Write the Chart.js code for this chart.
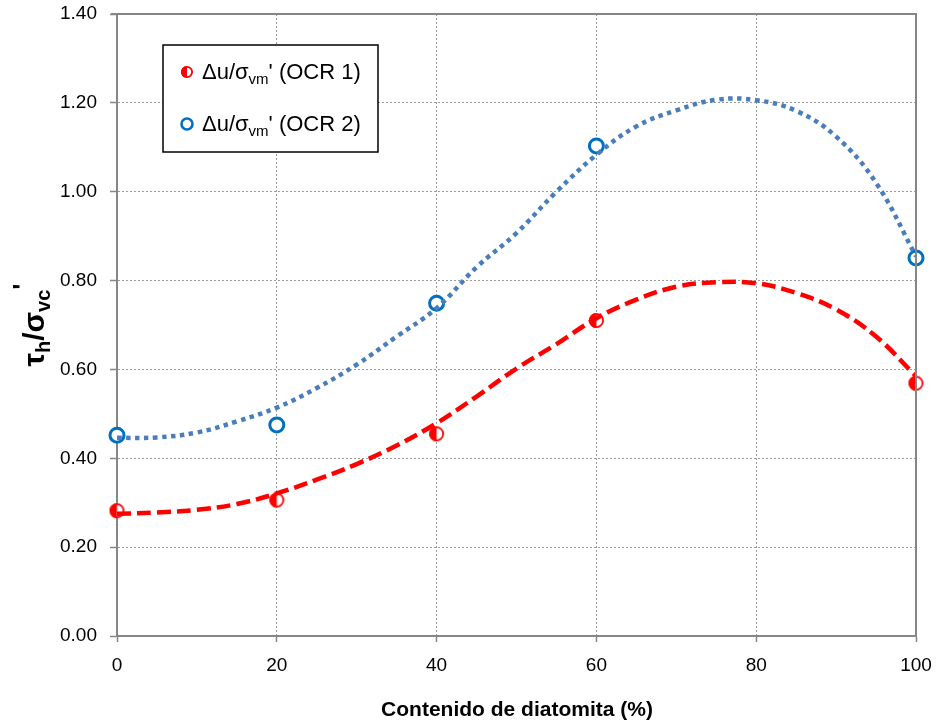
<!DOCTYPE html>
<html>
<head>
<meta charset="utf-8">
<script src="https://cdn.jsdelivr.net/npm/chart.js@4.4.1/dist/chart.umd.min.js"></script>
<style>
  html, body { margin: 0; padding: 0; background: #fff; }
  #wrap { width: 937px; height: 726px; position: relative; }
</style>
</head>
<body>
<div id="wrap"><canvas id="c" width="937" height="726"></canvas></div>
<script>
// ---- data ----
const xPoints = [0, 20, 40, 60, 100];
const ocr1Values = [0.282, 0.306, 0.455, 0.710, 0.569];
const ocr2Values = [0.452, 0.475, 0.749, 1.103, 0.851];

// trend curves as drawn in the reference
const trendX = [0, 5, 10, 15, 20, 25, 30, 35, 40, 45, 50, 55, 60, 65, 70, 75, 80, 85, 90, 95, 100];
const trend1Values = [0.275, 0.278, 0.284, 0.297, 0.321, 0.352, 0.387, 0.429, 0.479, 0.539, 0.602, 0.657, 0.715, 0.757, 0.786, 0.796, 0.794, 0.772, 0.735, 0.674, 0.585];
const trend2Values = [0.446, 0.447, 0.458, 0.483, 0.514, 0.558, 0.611, 0.674, 0.738, 0.830, 0.907, 1.000, 1.083, 1.147, 1.183, 1.207, 1.206, 1.182, 1.124, 1.020, 0.855];

const xTicks = [0, 20, 40, 60, 80, 100];
const yTickLabels = ['0.00', '0.20', '0.40', '0.60', '0.80', '1.00', '1.20', '1.40'];

const legendLabels = [
  { main: 'Δu/σ', sub: 'vm', rest: "' (OCR 1)" },
  { main: 'Δu/σ', sub: 'vm', rest: "' (OCR 2)" }
];

const RED = '#FF0000';
const BLUE_MK = '#0070C0';
const BLUE_LN = '#4A7EBB';
const AXIS = '#868686';
const GRID = '#9a9a9a';
const FONT = '"Liberation Sans", Arial, sans-serif';

function halfMarker(r) {
  const s = Math.ceil(r * 2 + 4);
  const cv = document.createElement('canvas');
  cv.width = s; cv.height = s;
  const g = cv.getContext('2d');
  const c = s / 2;
  g.beginPath(); g.arc(c, c, r, 0, Math.PI * 2); g.fillStyle = '#fff'; g.fill();
  g.beginPath(); g.moveTo(c, c - r); g.arc(c, c, r, -Math.PI / 2, Math.PI / 2, true); g.closePath();
  g.fillStyle = RED; g.fill();
  g.beginPath(); g.arc(c, c, r - 0.9, 0, Math.PI * 2); g.lineWidth = 1.8; g.strokeStyle = RED; g.stroke();
  return cv;
}
const redMarker = halfMarker(7.5);
const redMarkerSmall = halfMarker(6);

function toXY(xs, ys) { return xs.map((x, i) => ({ x: x, y: ys[i] })); }

const decorPlugin = {
  id: 'decor',
  afterDraw(chart) {
    const ctx = chart.ctx;
    const a = chart.chartArea;
    ctx.save();
    // top & right solid borders
    ctx.strokeStyle = AXIS; ctx.lineWidth = 2;
    ctx.beginPath();
    ctx.moveTo(a.left - 6, a.top); ctx.lineTo(a.right, a.top); ctx.lineTo(a.right, a.bottom);
    ctx.stroke();

    // legend box
    const bx = 163, by = 45, bw = 215, bh = 107;
    ctx.fillStyle = '#fff'; ctx.fillRect(bx, by, bw, bh);
    ctx.strokeStyle = '#000'; ctx.lineWidth = 1.5; ctx.strokeRect(bx, by, bw, bh);
    const rows = [79, 131];
    legendLabels.forEach((lab, i) => {
      const y = rows[i];
      if (i === 0) {
        ctx.drawImage(redMarkerSmall, 187 - redMarkerSmall.width / 2, y - 7 - redMarkerSmall.height / 2);
      } else {
        ctx.beginPath(); ctx.arc(187, y - 7, 5.5, 0, Math.PI * 2);
        ctx.fillStyle = '#fff'; ctx.fill();
        ctx.lineWidth = 2.6; ctx.strokeStyle = BLUE_MK; ctx.stroke();
      }
      ctx.fillStyle = '#000';
      ctx.textBaseline = 'alphabetic'; ctx.textAlign = 'left';
      let x = 202;
      ctx.font = '22px ' + FONT;
      ctx.fillText(lab.main, x, y); x += ctx.measureText(lab.main).width;
      ctx.font = '15px ' + FONT;
      ctx.fillText(lab.sub, x, y + 5); x += ctx.measureText(lab.sub).width;
      ctx.font = '22px ' + FONT;
      ctx.fillText(lab.rest, x, y);
    });

    // x-axis title
    ctx.font = 'bold 21px ' + FONT;
    ctx.textAlign = 'center'; ctx.textBaseline = 'alphabetic';
    ctx.fillStyle = '#000';
    ctx.fillText('Contenido de diatomita (%)', 517, 716);

    // y-axis title: tau_h / sigma_vc '
    ctx.translate(44, 325);
    ctx.rotate(-Math.PI / 2);
    const parts = [
      { t: 'τ', f: 'bold 30px ' + FONT, dy: 0 },
      { t: 'h', f: 'bold 20px ' + FONT, dy: 6 },
      { t: '/σ', f: 'bold 30px ' + FONT, dy: 0 },
      { t: 'vc', f: 'bold 20px ' + FONT, dy: 6 },
      { t: "'", f: 'bold 26px ' + FONT, dy: -13 }
    ];
    let total = 0;
    parts.forEach(p => { ctx.font = p.f; total += ctx.measureText(p.t).width; });
    let px = -total / 2;
    ctx.textAlign = 'left';
    parts.forEach(p => {
      ctx.font = p.f;
      ctx.fillText(p.t, px, p.dy);
      px += ctx.measureText(p.t).width;
    });
    ctx.restore();
  }
};

new Chart(document.getElementById('c'), {
  type: 'scatter',
  data: {
    datasets: [
      {
        label: 'trend OCR 1',
        data: toXY(trendX, trend1Values),
        showLine: true, pointRadius: 0, pointHoverRadius: 0,
        borderColor: RED, borderWidth: 4.5, borderDash: [14, 6],
        tension: 0.4, fill: false
      },
      {
        label: 'trend OCR 2',
        data: toXY(trendX, trend2Values),
        showLine: true, pointRadius: 0, pointHoverRadius: 0,
        borderColor: BLUE_LN, borderWidth: 4.5, borderDash: [4.5, 4.5],
        tension: 0.4, fill: false
      },
      {
        label: "Δu/σvm' (OCR 1)",
        data: toXY(xPoints, ocr1Values),
        pointStyle: redMarker, pointRadius: 7.5, showLine: false, clip: false
      },
      {
        label: "Δu/σvm' (OCR 2)",
        data: toXY(xPoints, ocr2Values),
        pointStyle: 'circle', pointRadius: 7, pointBorderWidth: 3,
        borderColor: BLUE_MK, backgroundColor: '#fff', showLine: false, clip: false
      }
    ]
  },
  options: {
    responsive: false,
    animation: false,
    devicePixelRatio: 1,
    layout: { padding: { top: 14, right: 21, left: 0, bottom: 0 } },
    plugins: { legend: { display: false }, tooltip: { enabled: false } },
    scales: {
      x: {
        type: 'linear', min: 0, max: 100,
        afterBuildTicks(s) { s.ticks = xTicks.map(v => ({ value: v })); },
        afterFit(s) { s.height = 90; s.paddingLeft = 0; s.paddingRight = 0; },
        grid: {
          color: GRID, lineWidth: 1,
          tickLength: 6, tickColor: AXIS, tickWidth: 1.5, tickBorderDash: []
        },
        border: { color: AXIS, width: 2, dash: [2, 2] },
        ticks: {
          color: '#000', font: { family: FONT, size: 19 }, padding: 12,
          maxRotation: 0, callback: v => String(v)
        }
      },
      y: {
        type: 'linear', min: 0, max: 1.4,
        afterBuildTicks(s) { s.ticks = yTickLabels.map(t => ({ value: parseFloat(t) })); },
        afterFit(s) { s.width = 117; s.paddingTop = 0; s.paddingBottom = 0; },
        grid: {
          color: GRID, lineWidth: 1,
          tickLength: 7, tickColor: AXIS, tickWidth: 1.5, tickBorderDash: []
        },
        border: { color: AXIS, width: 2, dash: [2, 2] },
        ticks: {
          color: '#000', font: { family: FONT, size: 19 }, padding: 13,
          callback: (v) => yTickLabels.find(t => Math.abs(parseFloat(t) - v) < 1e-6) || ''
        }
      }
    }
  },
  plugins: [decorPlugin]
});
</script>
</body>
</html>
